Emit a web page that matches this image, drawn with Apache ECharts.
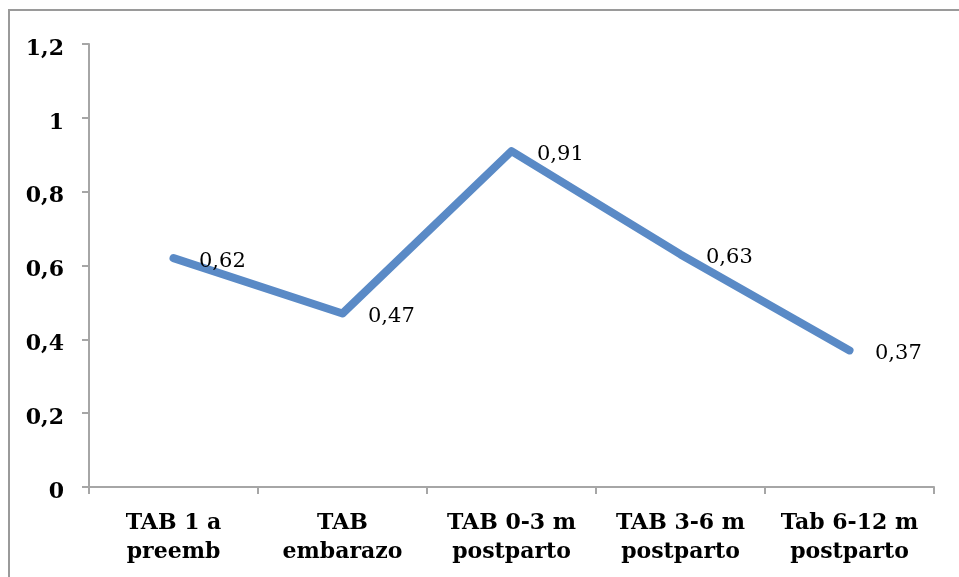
<!DOCTYPE html>
<html>
<head>
<meta charset="utf-8">
<script src="https://cdn.jsdelivr.net/npm/echarts@6/dist/echarts.min.js"></script>
<style>
  html, body { margin: 0; padding: 0; background: #fff; }
  #chart { width: 959px; height: 577px; }
</style>
</head>
<body>
<div id="chart"></div>
<script>
// Categories and values for the TAB series
const categories = ['TAB 1 a\npreemb', 'TAB\nembarazo', 'TAB 0-3 m\npostparto', 'TAB 3-6 m\npostparto', 'Tab 6-12 m\npostparto'];
const values = [0.62, 0.47, 0.91, 0.63, 0.37];
const yTicks = { min: 0, max: 1.2, interval: 0.2 };

const fmt = v => String(+v.toFixed(2)).replace('.', ',');
const serif = '"DejaVu Serif", "Liberation Serif", serif';
const axisGrey = '#a6a6a6';
const lineBlue = '#5a8ac6';

const chart = echarts.init(document.getElementById('chart'));
chart.setOption({
  animation: false,
  backgroundColor: '#fff',
  graphic: [{
    type: 'rect',
    shape: { x: 9, y: 10, width: 960, height: 600 },
    style: { fill: 'none', stroke: '#9a9a9a', lineWidth: 2 },
    silent: true
  }],
  grid: { left: 89, right: 25, top: 44, bottom: 90 },
  xAxis: {
    type: 'category',
    data: categories,
    boundaryGap: true,
    axisLine: { lineStyle: { color: axisGrey, width: 2 } },
    axisTick: { show: true, length: 7, inside: false, lineStyle: { color: axisGrey, width: 2 } },
    axisLabel: {
      color: '#000', fontFamily: serif, fontWeight: 'bold', fontSize: 22,
      lineHeight: 29, margin: 22, interval: 0
    },
    splitLine: { show: false }
  },
  yAxis: {
    type: 'value',
    min: yTicks.min, max: yTicks.max, interval: yTicks.interval,
    axisLine: { show: true, lineStyle: { color: axisGrey, width: 2 } },
    axisTick: { show: true, length: 7, lineStyle: { color: axisGrey, width: 2 } },
    axisLabel: {
      color: '#000', fontFamily: serif, fontWeight: 'bold', fontSize: 22,
      margin: 25, verticalAlign: 'top', lineHeight: 10, formatter: fmt
    },
    splitLine: { show: false }
  },
  series: [{
    type: 'line',
    data: values,
    symbol: 'circle',
    symbolSize: 1,
    showSymbol: true,
    itemStyle: { color: lineBlue },
    lineStyle: { color: lineBlue, width: 8, cap: 'round', join: 'round' },
    label: {
      show: true, position: 'right', distance: 25, offset: [0, 3],
      color: '#000', fontFamily: serif, fontSize: 21,
      formatter: p => fmt(p.value)
    }
  }]
});
</script>
</body>
</html>
